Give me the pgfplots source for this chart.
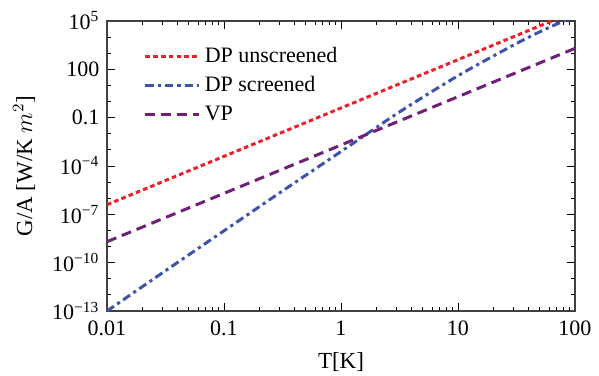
\documentclass[border=0pt]{standalone}
\usepackage{pgfplots}
\pgfplotsset{compat=1.18}
\usepackage{fontspec}
\setmainfont{Liberation Serif}
\usetikzlibrary{calc}
\definecolor{cred}{RGB}{236,32,40}
\definecolor{cblue}{RGB}{62,84,170}
\definecolor{cpurple}{RGB}{112,32,120}
\begin{document}
\fontsize{11}{13}\selectfont
\begin{tikzpicture}
\begin{loglogaxis}[
  name=ax,
  scale only axis,
  width=234pt, height=145pt,
  xmin=0.01, xmax=100,
  ymin=1e-13, ymax=1e5,
  xtick={0.01,0.1,1,10,100},
  xticklabels={0.01,0.1,1,10,100},
  ytick={1e-13,1e-10,1e-7,1e-4,1e-1,1e2,1e5},
  yticklabels={10\textsuperscript{−13},10\textsuperscript{−10},10\textsuperscript{−7},10\textsuperscript{−4},0.1,100,10\textsuperscript{5}},
  minor ytick={1e-12,1e-11,1e-9,1e-8,1e-6,1e-5,1e-3,1e-2,1,10,1e3,1e4},
  tick label style={font=\fontsize{11}{13}\selectfont},
  label style={font=\fontsize{11.5}{13}\selectfont},
  tick style={black, line width=0.4pt},
  major tick length=4pt, minor tick length=2pt,
  axis line style={line width=0.6pt, black!75},
  xticklabel style={yshift=-1pt},
  xlabel={T[K]},
  ylabel={G/A [W/K $m^{2}$]},
  xlabel style={yshift=-1pt},
  ylabel style={yshift=1pt},
  legend style={draw=none, fill=none, at={(rel axis cs:0.065,0.94)}, anchor=north west,
    row sep=1.5pt, font=\fontsize{11}{13}\selectfont},
  legend cell align=left,
  legend image code/.code={\path (0pt,0pt) -- (27pt,0pt); \draw[#1] (0pt,0pt) -- (22.5pt,0pt);},
  clip=true,
]
\addplot[cred, line width=1.5pt, dash pattern=on 2.3pt off 1.6pt] coordinates {(0.01,3.98e-7) (100,3.98e5)};
\addlegendentry{DP unscreened}
\addplot[cblue, line width=1.5pt, smooth, dash pattern=on 4.2pt off 2pt on 1.6pt off 2pt] coordinates {
(0.01,1e-13) (0.0316,3.16e-11) (0.1,9.5e-9) (0.316,2.82e-6) (1,7.9e-4) (3.16,0.224) (10,40) (31.6,4e3) (56.2,3.16e4) (100,2e5)};
\addlegendentry{DP screened}
\addplot[cpurple, line width=1.5pt, dash pattern=on 5pt off 3pt] coordinates {(0.01,2.0e-9) (100,2.0e3)};
\addlegendentry{VP}
\end{loglogaxis}
\pgfresetboundingbox
\path ($(ax.south west)+(-53.5pt,-32pt)$) rectangle ($(ax.north east)+(12pt,10.5pt)$);
\end{tikzpicture}
\end{document}
